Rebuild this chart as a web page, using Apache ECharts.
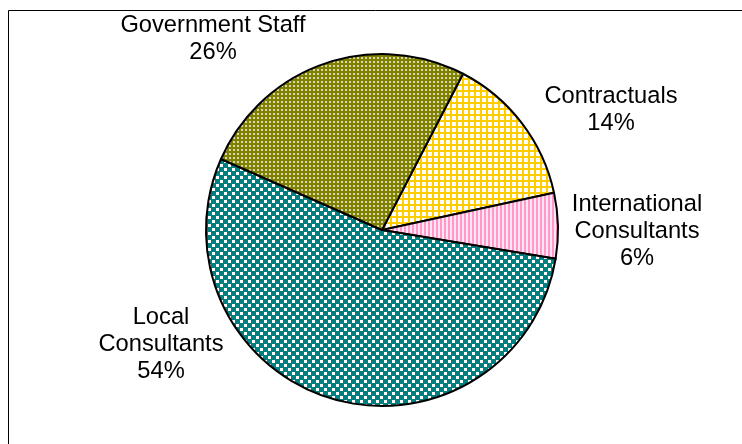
<!DOCTYPE html>
<html>
<head>
<meta charset="utf-8">
<script src="https://cdn.jsdelivr.net/npm/echarts@6/dist/echarts.min.js"></script>
<style>
  html, body { margin: 0; padding: 0; background: #fff; }
  #chart { width: 742px; height: 444px; }
</style>
</head>
<body>
<div id="chart"></div>
<script>
// Staff composition, in drawing order (clockwise)
const categories = ['Contractuals', 'International\nConsultants', 'Local\nConsultants', 'Government Staff'];
const shares = [14, 6, 54, 26];

// Hatch tiles for each slice
function tile(w, h, paint) {
  const c = document.createElement('canvas');
  c.width = w; c.height = h;
  paint(c.getContext('2d'));
  return { image: c, repeat: 'repeat' };
}
const fills = [
  // yellow grid on white
  tile(6, 6, g => {
    g.fillStyle = '#ffffff'; g.fillRect(0, 0, 6, 6);
    g.fillStyle = '#ffcc00'; g.fillRect(0, 0, 2, 6); g.fillRect(0, 0, 6, 2);
  }),
  // pink vertical stripes
  tile(4, 4, g => {
    g.fillStyle = '#ffe4f1'; g.fillRect(0, 0, 4, 4);
    g.fillStyle = '#ff99cc'; g.fillRect(0, 0, 2, 4);
  }),
  // teal with white checks
  tile(8, 8, g => {
    g.fillStyle = '#008080'; g.fillRect(0, 0, 8, 8);
    g.fillStyle = '#ffffff'; g.fillRect(0, 0, 3, 3); g.fillRect(4, 4, 3, 3);
  }),
  // olive with light dots
  tile(4, 4, g => {
    g.fillStyle = '#808000'; g.fillRect(0, 0, 4, 4);
    g.fillStyle = '#d8d8aa'; g.fillRect(1, 1, 2, 2);
  })
];

// Label anchor points (label box centres)
const labelAnchors = [
  [611, 110],
  [637, 231],
  [161, 344],
  [213, 39]
];

const chart = echarts.init(document.getElementById('chart'), null, { renderer: 'canvas' });
chart.setOption({
  animation: false,
  backgroundColor: '#ffffff',
  graphic: [{
    type: 'rect',
    shape: { x: 8.5, y: 10.5, width: 800, height: 500 },
    style: { fill: 'none', stroke: '#000000', lineWidth: 1 },
    silent: true,
    z: 0
  }],
  series: [{
    type: 'pie',
    center: [382, 230],
    radius: 176,
    startAngle: 62.6,
    clockwise: true,
    avoidLabelOverlap: false,
    data: categories.map((name, i) => ({
      name: name,
      value: shares[i],
      itemStyle: { color: fills[i] }
    })),
    itemStyle: { borderColor: '#000000', borderWidth: 2 },
    label: {
      show: true,
      position: 'outside',
      formatter: p => p.name + '\n' + Math.round(p.percent) + '%',
      fontFamily: '"Liberation Sans", Arial, sans-serif',
      fontSize: 23.7,
      lineHeight: 27,
      color: '#000000',
      align: 'center'
    },
    labelLine: { show: false },
    labelLayout: p => ({
      x: labelAnchors[p.dataIndex][0],
      y: labelAnchors[p.dataIndex][1],
      align: 'center',
      verticalAlign: 'middle'
    }),
    emphasis: { disabled: true }
  }]
});
</script>
</body>
</html>
